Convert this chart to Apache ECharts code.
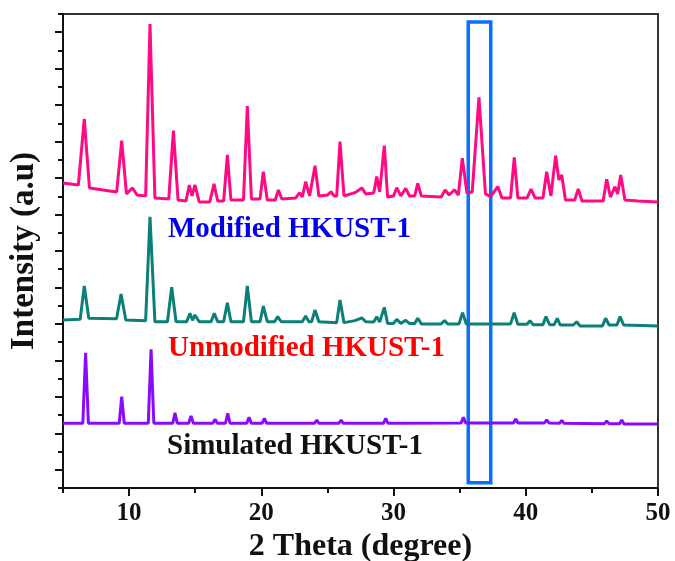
<!DOCTYPE html>
<html>
<head>
<meta charset="utf-8">
<script src="https://cdn.jsdelivr.net/npm/echarts@6/dist/echarts.min.js"></script>
<style>html,body{margin:0;padding:0;background:#fff}#c{width:675px;height:561px}</style>
</head>
<body>
<div id="c"></div>
<script>
// 2θ (degree), intensity (a.u., stacked offsets)
const modified = [
[5.0,16.73],[6.16,16.62],[6.61,20.24],[7.0,16.46],[9.06,16.24],[9.44,19.05],[9.8,16.13],[10.24,16.46],[10.6,16.07],[11.25,16.02],[11.58,25.45],[11.95,15.91],[13.0,15.85],[13.35,19.6],[13.7,15.8],[14.3,15.74],[14.55,16.62],[14.76,16.02],[14.98,16.62],[15.3,15.69],[16.1,15.69],[16.42,16.68],[16.7,15.74],[17.15,15.74],[17.43,18.27],[17.7,15.8],[18.65,15.8],[18.94,20.95],[19.25,15.85],[19.9,15.85],[20.15,17.35],[20.45,15.8],[21.05,15.8],[21.29,16.35],[21.55,15.85],[22.6,15.91],[22.9,16.2],[23.1,15.96],[23.35,16.8],[23.65,16.02],[23.8,16.02],[24.06,17.68],[24.35,16.02],[25.0,16.07],[25.27,16.25],[25.5,16.02],[25.7,16.02],[25.95,19.0],[26.25,16.02],[27.08,16.2],[27.6,16.46],[27.9,16.13],[28.5,16.18],[28.73,17.08],[28.95,16.24],[29.1,16.24],[29.3,18.78],[29.55,15.96],[30.0,16.02],[30.24,16.47],[30.55,16.02],[30.92,16.44],[31.2,16.02],[31.6,16.02],[31.83,16.71],[32.1,16.02],[33.6,15.96],[33.9,16.35],[34.2,16.07],[34.6,16.35],[34.9,16.07],[35.2,18.09],[35.55,16.18],[35.95,16.24],[36.46,21.43],[36.95,16.13],[37.35,15.98],[37.88,16.53],[38.2,15.91],[38.85,15.91],[39.13,18.14],[39.4,15.91],[40.1,15.91],[40.4,16.39],[40.7,15.91],[41.3,15.91],[41.58,17.35],[41.9,16.02],[42.0,16.02],[42.26,18.23],[42.5,16.9],[42.72,17.17],[43.0,15.8],[43.7,15.8],[43.97,16.4],[44.25,15.74],[45.85,15.74],[46.12,16.93],[46.4,15.96],[46.75,16.53],[46.95,16.13],[47.18,17.17],[47.5,15.8],[48.5,15.74],[50.0,15.69]
];
const unmodified = [
[5.0,9.22],[6.3,9.25],[6.61,11.08],[6.95,9.31],[9.05,9.28],[9.39,10.64],[9.75,9.22],[11.25,9.18],[11.58,14.88],[11.95,9.12],[12.9,9.12],[13.22,11.01],[13.55,9.12],[14.35,9.12],[14.6,9.58],[14.8,9.2],[14.98,9.49],[15.3,9.12],[16.2,9.12],[16.44,9.58],[16.7,9.12],[17.15,9.12],[17.43,10.16],[17.7,9.12],[18.65,9.12],[18.94,11.08],[19.25,9.12],[19.9,9.12],[20.15,9.98],[20.45,9.12],[21.0,9.12],[21.24,9.4],[21.5,9.12],[23.1,9.12],[23.35,9.43],[23.6,9.12],[23.8,9.12],[24.06,9.76],[24.35,9.12],[25.7,9.07],[25.95,10.31],[26.25,9.07],[27.08,9.18],[27.6,9.33],[27.9,9.12],[28.5,9.1],[28.73,9.4],[28.95,9.1],[29.1,9.1],[29.3,9.91],[29.55,9.03],[30.0,9.03],[30.24,9.25],[30.55,9.03],[30.92,9.2],[31.2,9.03],[31.6,9.03],[31.83,9.31],[32.1,9.0],[33.6,9.0],[33.86,9.18],[34.1,9.0],[34.95,9.0],[35.22,9.62],[35.5,9.0],[38.85,9.0],[39.12,9.62],[39.4,8.98],[40.1,8.98],[40.32,9.18],[40.55,8.96],[41.3,8.96],[41.53,9.4],[41.8,8.96],[42.15,8.96],[42.38,9.31],[42.6,8.94],[43.6,8.94],[43.85,9.12],[44.1,8.89],[45.8,8.89],[46.04,9.31],[46.3,8.94],[46.9,8.94],[47.13,9.4],[47.4,8.94],[50.0,8.89]
];
const simulated = [
[5.0,3.55],[6.5,3.55],[6.71,7.42],[6.92,3.55],[9.25,3.55],[9.44,5.01],[9.63,3.55],[11.45,3.55],[11.66,7.61],[11.87,3.55],[13.3,3.55],[13.47,4.13],[13.64,3.55],[14.5,3.55],[14.68,3.95],[14.86,3.55],[16.33,3.55],[16.5,3.77],[16.67,3.55],[17.29,3.55],[17.46,4.1],[17.63,3.55],[18.9,3.55],[19.07,3.88],[19.24,3.55],[20.06,3.55],[20.23,3.82],[20.4,3.55],[24.02,3.55],[24.19,3.73],[24.36,3.55],[25.86,3.55],[26.03,3.73],[26.2,3.55],[29.24,3.55],[29.41,3.82],[29.58,3.55],[35.11,3.57],[35.28,3.88],[35.45,3.57],[39.07,3.57],[39.24,3.79],[39.41,3.57],[41.41,3.57],[41.58,3.73],[41.75,3.57],[42.55,3.55],[42.72,3.7],[42.89,3.55],[45.95,3.53],[46.12,3.68],[46.29,3.53],[47.09,3.53],[47.26,3.73],[47.43,3.51],[50.0,3.51]
];
const boxRegion = [[35.65, 0.29], [37.35, 25.56]];
const xMajor = [10, 20, 30, 40, 50];
const xMinor = [5, 15, 25, 35, 45];
const yMajor = [1,3,5,7,9,11,13,15,17,19,21,23,25];
const yMinor = [0,2,4,6,8,10,12,14,16,18,20,22,24,26];
const labels = ['Modified HKUST-1', 'Unmodified HKUST-1', 'Simulated HKUST-1'];

const F = '"Liberation Serif","Times New Roman",serif';
const chart = echarts.init(document.getElementById('c'), null, {renderer:'canvas'});
const axisLine = {show:true, lineStyle:{color:'#111', width:2}};
chart.setOption({
  animation:false,
  backgroundColor:'#fff',
  grid:{left:63, right:17, top:14, bottom:73, show:true, borderColor:'#333', borderWidth:2, containLabel:false, outerBoundsMode:'none'},
  xAxis:[
    {type:'value', min:5, max:50, position:'bottom', axisLine,
     axisTick:{show:true, customValues:xMajor, length:8, lineStyle:{color:'#111', width:2}},
     axisLabel:{show:true, customValues:xMajor, fontFamily:F, fontWeight:'bold', fontSize:25, color:'#111', margin:13},
     splitLine:{show:false},
     name:'2 Theta (degree)', nameLocation:'middle', nameGap:41,
     nameTextStyle:{fontFamily:F, fontWeight:'bold', fontSize:32, color:'#111'}},
    {type:'value', min:5, max:50, position:'bottom', axisLine:{show:false},
     axisTick:{show:true, customValues:xMinor, length:5, lineStyle:{color:'#111', width:2}},
     axisLabel:{show:false}, splitLine:{show:false}}
  ],
  yAxis:[
    {type:'value', min:0, max:26, position:'left', axisLine,
     axisTick:{show:true, customValues:yMajor, length:8, lineStyle:{color:'#111', width:2}},
     axisLabel:{show:false}, splitLine:{show:false},
     name:'Intensity (a.u)', nameLocation:'middle', nameGap:22, nameRotate:90,
     nameTextStyle:{fontFamily:F, fontWeight:'bold', fontSize:33, color:'#111'}},
    {type:'value', min:0, max:26, position:'left', axisLine:{show:false},
     axisTick:{show:true, customValues:yMinor, length:5, lineStyle:{color:'#111', width:2}},
     axisLabel:{show:false}, splitLine:{show:false}}
  ],
  series:[
    {type:'line', name:labels[0], data:modified, symbol:'none', lineStyle:{color:'#FF0A84', width:3}, z:3,
     markArea:{silent:true, itemStyle:{color:'rgba(0,0,0,0)', borderColor:'#0A6EFF', borderWidth:3.5},
       data:[[{coord:boxRegion[0]},{coord:boxRegion[1]}]]}},
    {type:'line', name:labels[1], data:unmodified, symbol:'none', lineStyle:{color:'#0B7F78', width:3}, z:3},
    {type:'line', name:labels[2], data:simulated, symbol:'none', lineStyle:{color:'#8A0AFF', width:3}, z:3}
  ],
  graphic:[
    {type:'text', left:168, top:215, style:{text:labels[0], fill:'#0000EE', font:'bold 29px '+F}},
    {type:'text', left:168, top:334, style:{text:labels[1], fill:'#FF0000', font:'bold 29px '+F}},
    {type:'text', left:167, top:432, style:{text:labels[2], fill:'#111', font:'bold 29px '+F}}
  ]
});
</script>
</body>
</html>
